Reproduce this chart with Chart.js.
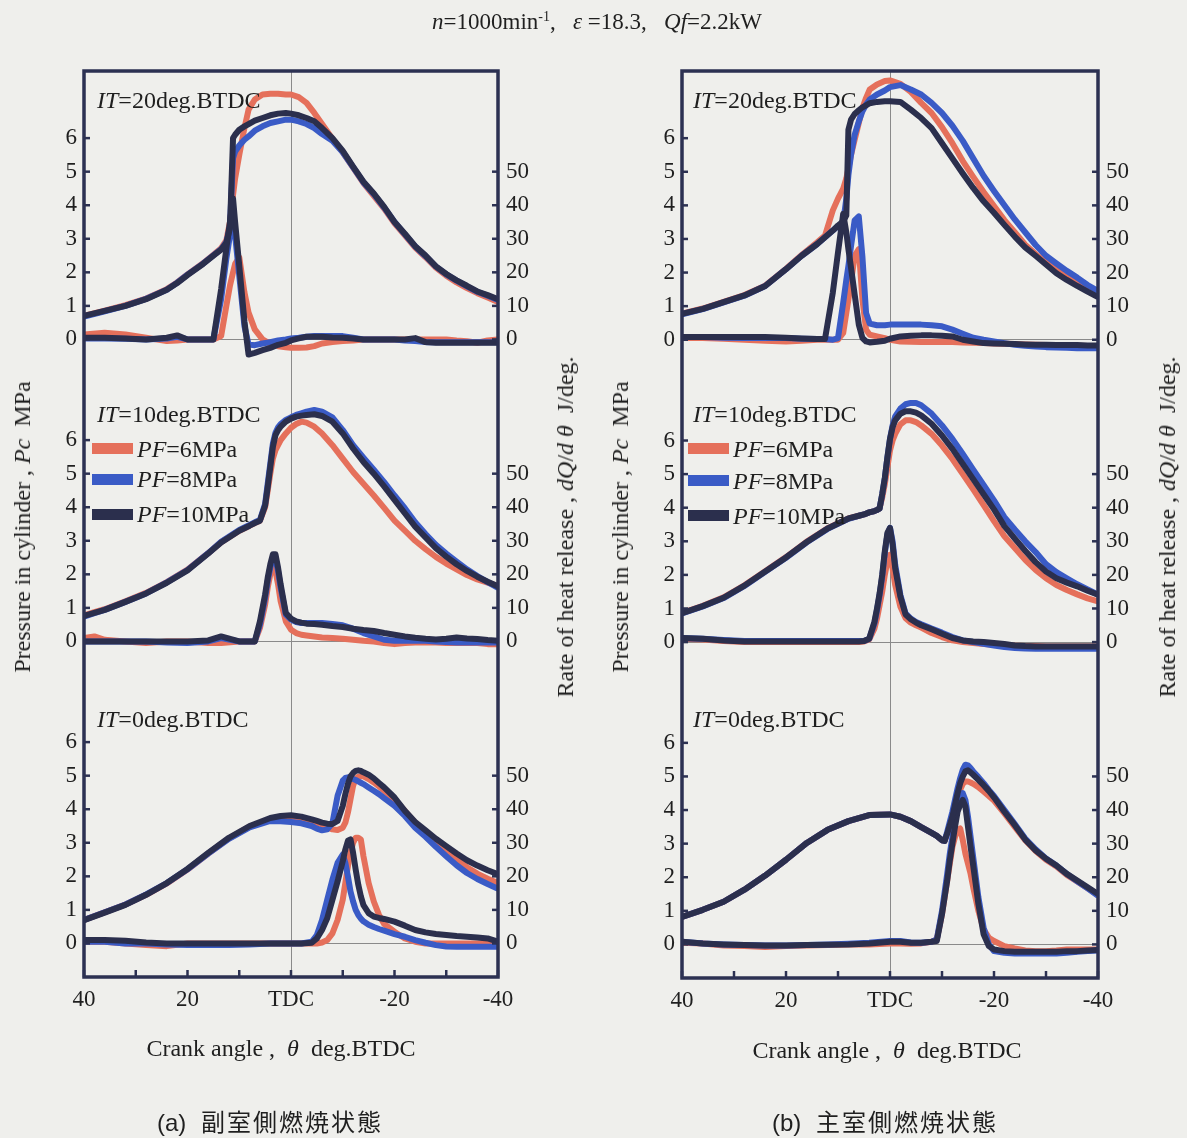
<!DOCTYPE html>
<html>
<head>
<meta charset="utf-8">
<title>Cylinder pressure and heat release</title>
<script src="https://cdn.jsdelivr.net/npm/chart.js@4.4.1/dist/chart.umd.min.js"></script>
<style>
  body { margin: 0; background: #efefec; }
  #page { position: relative; width: 1187px; height: 1138px; overflow: hidden;
          font-family: "Liberation Serif", "Times New Roman", serif; color: #1f1f1f; }
  #page canvas { position: absolute; top: 0; }
  .lbl { position: absolute; white-space: pre; line-height: 1; font-size: 24px; }
  .c { transform: translate(-50%, -50%); }
  .v { transform: translate(-50%, -50%) rotate(-90deg); }
  .sw { position: absolute; width: 41px; height: 11px; }
  .cap { font-family: "Noto Sans CJK JP", sans-serif; font-size: 24px; letter-spacing: 2px; }
  .cap .tag { font-family: "Liberation Sans", sans-serif; letter-spacing: 0; }
</style>
</head>
<body>
<div id="page">
  <canvas id="chartA" width="594" height="1138" style="left:0"></canvas>
  <canvas id="chartB" width="593" height="1138" style="left:594px"></canvas>

  <div class="lbl c" style="left:597px; top:21px; font-size:23px"><i>n</i>=1000min<span style="font-size:14px; vertical-align:8px">-1</span>,   <i>ε</i> =18.3,   <i>Qf</i>=2.2kW</div>

  <!-- panel (a) labels -->
  <div class="lbl" style="left:97px; top:88px"><i>IT</i>=20deg.BTDC</div>
  <div class="lbl" style="left:97px; top:402px"><i>IT</i>=10deg.BTDC</div>
  <div class="lbl" style="left:97px; top:707px"><i>IT</i>=0deg.BTDC</div>
  <div class="sw" style="left:92px; top:443px; background:#e5705b"></div>
  <div class="sw" style="left:92px; top:474px; background:#3a5bc6"></div>
  <div class="sw" style="left:92px; top:509px; background:#2b2f4d"></div>
  <div class="lbl" style="left:137px; top:437px"><i>PF</i>=6MPa</div>
  <div class="lbl" style="left:137px; top:467px"><i>PF</i>=8MPa</div>
  <div class="lbl" style="left:137px; top:502px"><i>PF</i>=10MPa</div>
  <div class="lbl v" style="left:22px; top:527px">Pressure in cylinder , <i>Pc</i>  MPa</div>
  <div class="lbl v" style="left:565px; top:527px">Rate of heat release , <i>dQ</i>/<i>d θ</i>  J/deg.</div>
  <div class="lbl c" style="left:281px; top:1048px">Crank angle ,  <i>θ</i>  deg.BTDC</div>
  <div class="lbl c cap" style="left:270px; top:1122px"><span class="tag">(a)</span>  副室側燃焼状態</div>

  <!-- panel (b) labels -->
  <div class="lbl" style="left:693px; top:88px"><i>IT</i>=20deg.BTDC</div>
  <div class="lbl" style="left:693px; top:402px"><i>IT</i>=10deg.BTDC</div>
  <div class="lbl" style="left:693px; top:707px"><i>IT</i>=0deg.BTDC</div>
  <div class="sw" style="left:688px; top:443px; background:#e5705b"></div>
  <div class="sw" style="left:688px; top:475px; background:#3a5bc6"></div>
  <div class="sw" style="left:688px; top:510px; background:#2b2f4d"></div>
  <div class="lbl" style="left:733px; top:437px"><i>PF</i>=6MPa</div>
  <div class="lbl" style="left:733px; top:469px"><i>PF</i>=8MPa</div>
  <div class="lbl" style="left:733px; top:504px"><i>PF</i>=10MPa</div>
  <div class="lbl v" style="left:620px; top:527px">Pressure in cylinder , <i>Pc</i>  MPa</div>
  <div class="lbl v" style="left:1167px; top:527px">Rate of heat release , <i>dQ</i>/<i>d θ</i>  J/deg.</div>
  <div class="lbl c" style="left:887px; top:1050px">Crank angle ,  <i>θ</i>  deg.BTDC</div>
  <div class="lbl c cap" style="left:885px; top:1122px"><span class="tag">(b)</span>  主室側燃焼状態</div>
</div>

<script>
// ---- axis ticks ----
const pressTicks = [0, 1, 2, 3, 4, 5, 6];
const heatTicks = [0, 10, 20, 30, 40, 50];
const angleTicks = [40, 30, 20, 10, 0, -10, -20, -30, -40];
const angleLabelAt = [40, 20, 0, -20, -40];
const angleLabelText = ['40', '20', 'TDC', '-20', '-40'];

// ---- (a) auxiliary chamber side ----
// IT = 20 deg.BTDC
const angA20 = [40, 36, 32, 28, 24, 22, 20, 17, 15, 13.5, 12.5, 11.8, 11.2, 10.8, 10, 9, 8.2, 7, 5.5, 4, 2.5, 1, 0, -1.5, -3, -4.5, -6, -8, -10, -12, -14, -16, -18, -20, -22, -24, -26, -28, -30, -32, -34, -36, -38, -40];
const presA20_pf6 = [0.70, 0.86, 1.02, 1.22, 1.50, 1.70, 1.94, 2.27, 2.52, 2.72, 2.95, 3.50, 4.30, 4.80, 5.50, 6.30, 6.85, 7.15, 7.30, 7.32, 7.32, 7.30, 7.30, 7.22, 7.05, 6.75, 6.42, 5.98, 5.58, 5.12, 4.66, 4.28, 3.90, 3.46, 3.10, 2.74, 2.45, 2.14, 1.90, 1.70, 1.53, 1.38, 1.25, 1.12];
const presA20_pf8 = [0.68, 0.84, 1.00, 1.21, 1.48, 1.69, 1.93, 2.26, 2.51, 2.69, 2.90, 3.35, 5.40, 5.60, 5.78, 5.95, 6.05, 6.22, 6.35, 6.45, 6.50, 6.55, 6.55, 6.50, 6.42, 6.30, 6.12, 5.92, 5.58, 5.13, 4.68, 4.33, 3.93, 3.50, 3.13, 2.77, 2.48, 2.17, 1.94, 1.75, 1.58, 1.42, 1.30, 1.18];
const presA20_pf10 = [0.70, 0.85, 1.00, 1.20, 1.48, 1.68, 1.92, 2.25, 2.50, 2.68, 2.88, 3.30, 6.00, 6.10, 6.25, 6.35, 6.42, 6.52, 6.60, 6.68, 6.73, 6.75, 6.73, 6.68, 6.60, 6.50, 6.30, 6.00, 5.62, 5.15, 4.70, 4.35, 3.95, 3.50, 3.15, 2.78, 2.50, 2.18, 1.95, 1.76, 1.60, 1.43, 1.32, 1.20];
const heatA20_pf6 = [1.5, 2, 1.5, 0.5, -0.5, -0.3, 0, 0, 0, 1, 10, 16, 20, 22.5, 24.5, 14, 8, 3, 0, -1.3, -2, -2.3, -2.5, -2.5, -2.4, -2, -1.2, -0.8, -0.5, -0.3, 0, 0, 0, 0, 0, 0, 0, 0, 0, -0.3, -0.5, -1, -0.3, 0];
const heatA20_pf8 = [0.3, 0.3, 0.2, 0, 0.3, 0.8, 0, 0, 0, 12, 24, 31, 37, 31, 19, 4, -1.5, -1.7, -1.2, -0.8, -0.3, 0, 0.3, 0.5, 0.8, 1, 1, 1, 1, 0.5, 0, 0, 0, 0, -0.3, -0.5, -0.8, -0.8, -0.8, -0.8, -0.8, -0.8, -0.8, -0.8];
const heatA20_pf10 = [0.5, 0.5, 0.3, 0, 0.5, 1.2, 0, 0, 0, 15, 27, 35, 42, 35, 22, 5.4, -4.5, -4, -3.2, -2.5, -1.6, -1, -0.3, 0.3, 0.8, 0.8, 0.8, 0.6, 0.5, 0.3, 0, 0, 0, 0, 0, 0.4, -0.8, -1, -1, -1, -1, -1, -1, -1];

// IT = 10 deg.BTDC
const angA10 = [40, 38, 36, 32, 28, 24, 20, 16, 13.5, 10, 8, 7, 6, 5, 4.5, 4, 3.5, 3, 2.5, 2, 1, 0, -1, -2, -3, -4.5, -6, -8, -10, -12, -14, -16, -18, -20, -22, -24, -26, -28, -30, -32, -34, -36, -38, -40];
const presA10_pf6 = [0.78, 0.87, 0.96, 1.20, 1.45, 1.77, 2.14, 2.63, 2.96, 3.30, 3.45, 3.53, 3.60, 4.00, 4.50, 5.00, 5.45, 5.70, 5.85, 6.00, 6.20, 6.37, 6.48, 6.55, 6.52, 6.40, 6.20, 5.85, 5.45, 5.05, 4.70, 4.35, 3.98, 3.60, 3.30, 3.00, 2.75, 2.52, 2.32, 2.15, 1.98, 1.85, 1.75, 1.65];
const presA10_pf8 = [0.74, 0.84, 0.94, 1.18, 1.43, 1.76, 2.13, 2.63, 2.97, 3.32, 3.47, 3.55, 3.62, 4.10, 4.70, 5.30, 5.90, 6.22, 6.38, 6.48, 6.60, 6.68, 6.75, 6.80, 6.85, 6.90, 6.85, 6.68, 6.30, 5.85, 5.48, 5.12, 4.75, 4.35, 3.97, 3.55, 3.20, 2.88, 2.62, 2.38, 2.15, 1.95, 1.77, 1.60];
const presA10_pf10 = [0.76, 0.85, 0.94, 1.18, 1.43, 1.75, 2.12, 2.62, 2.95, 3.30, 3.45, 3.53, 3.60, 4.05, 4.60, 5.20, 5.80, 6.15, 6.30, 6.40, 6.55, 6.64, 6.70, 6.73, 6.75, 6.77, 6.72, 6.55, 6.20, 5.75, 5.35, 5.00, 4.62, 4.22, 3.82, 3.42, 3.10, 2.78, 2.53, 2.30, 2.10, 1.93, 1.78, 1.64];
const heatA10_pf6 = [1, 1.5, 0.5, 0, -0.5, 0, 0, -0.5, -0.5, 0, 0, 0, 4, 11, 16, 20, 22, 21, 17, 12, 6, 3.5, 2.5, 2, 1.8, 1.5, 1.2, 1, 0.8, 0.5, 0.2, 0, -0.5, -0.8, -0.5, -0.3, -0.3, -0.3, -0.5, -0.5, -0.5, -0.5, -0.8, -0.8];
const heatA10_pf8 = [0, 0, 0, 0, 0, -0.3, -0.5, 0, 1, 0, 0, 0, 5, 13, 18, 22, 25, 24.5, 21, 16, 8, 6.5, 5.8, 5.5, 5.5, 5.5, 5.5, 5.2, 4.8, 3.8, 2.5, 1.5, 0.5, 0.2, 0.2, 0.2, 0.2, 0, -0.2, -0.3, -0.3, -0.3, -0.3, -0.3];
const heatA10_pf10 = [0, 0, 0, 0, 0, 0, 0, 0.3, 1.5, 0, 0, 0, 6, 14, 19, 23, 26, 26, 22, 17, 8.5, 6.8, 6, 5.6, 5.3, 5.2, 5, 4.6, 4.3, 3.8, 3.4, 3.1, 2.5, 2, 1.5, 1.1, 0.8, 0.6, 0.8, 1.2, 0.9, 0.7, 0.4, 0.2];

// IT = 0 deg.BTDC
const angA0 = [40, 36, 32, 28, 24, 20, 16, 12, 8, 4, 2, 0, -2, -4, -5, -6, -7, -8, -9, -10, -10.5, -11, -11.5, -12, -12.5, -13, -13.5, -14, -15, -16, -17, -18, -20, -22, -24, -26, -28, -30, -32, -34, -36, -38, -40];
const presA0_pf6 = [0.70, 0.93, 1.16, 1.45, 1.79, 2.20, 2.68, 3.13, 3.48, 3.70, 3.76, 3.78, 3.74, 3.66, 3.60, 3.55, 3.45, 3.40, 3.38, 3.45, 3.60, 3.90, 4.30, 4.70, 4.90, 4.97, 4.98, 4.98, 4.90, 4.80, 4.68, 4.55, 4.28, 3.95, 3.60, 3.30, 3.00, 2.75, 2.50, 2.27, 2.08, 1.93, 1.80];
const presA0_pf8 = [0.70, 0.93, 1.16, 1.46, 1.80, 2.21, 2.68, 3.12, 3.46, 3.65, 3.64, 3.62, 3.58, 3.50, 3.42, 3.37, 3.40, 3.58, 4.40, 4.85, 4.93, 4.95, 4.93, 4.90, 4.87, 4.83, 4.79, 4.75, 4.65, 4.55, 4.45, 4.33, 4.10, 3.80, 3.45, 3.18, 2.88, 2.60, 2.33, 2.10, 1.92, 1.77, 1.63];
const presA0_pf10 = [0.69, 0.92, 1.15, 1.45, 1.80, 2.22, 2.70, 3.15, 3.50, 3.74, 3.80, 3.82, 3.78, 3.70, 3.65, 3.60, 3.57, 3.56, 3.65, 4.10, 4.45, 4.75, 4.98, 5.08, 5.14, 5.16, 5.14, 5.10, 5.03, 4.92, 4.78, 4.65, 4.35, 3.95, 3.62, 3.37, 3.12, 2.90, 2.68, 2.48, 2.32, 2.18, 2.06];
const heatA0_pf6 = [0.5, 0.5, 0, -0.5, -0.8, 0, 0, 0, 0, 0, 0, 0, 0, 0, 0, 0.3, 1, 3, 7, 13, 18, 23, 27, 30, 31.5, 31.5, 31, 26, 18, 12.5, 8.5, 5.8, 3.5, 1.5, 0.5, 0, 0, 0, 0, 0, 0, 0, 0];
const heatA0_pf8 = [0.5, 0.5, 0, 0, -0.3, -0.5, -0.5, -0.5, -0.3, 0, 0, 0, 0, 0.5, 2.5, 7, 13, 19, 24, 26.5, 24, 20, 15.5, 12.5, 10, 8.5, 7.4, 6.6, 5.6, 4.9, 4.3, 3.8, 2.8, 2, 1, 0.2, -0.5, -0.9, -1, -1, -1, -1, -1];
const heatA0_pf10 = [1, 1, 0.8, 0.3, 0, 0, 0, 0, 0, 0, 0, 0, 0, 0.2, 1.5, 4, 7.5, 13, 18.5, 24.5, 28, 30.6, 31, 27, 22, 17.5, 14, 11.4, 9, 8, 7.6, 7.3, 6.5, 5.3, 4, 3.3, 2.8, 2.5, 2.2, 2, 1.8, 1.5, 0.5];

// ---- (b) main chamber side ----
// IT = 20 deg.BTDC
const angB20 = [40, 36, 32, 28, 24, 20, 17, 14, 12.5, 11, 10, 9, 8.4, 8, 7.5, 6.8, 6, 5.3, 4.6, 3.9, 2.5, 1, 0, -2, -4, -6, -8, -10, -12, -14, -16, -18, -20, -22, -24, -26, -28, -30, -32, -34, -36, -38, -40];
const presB20_pf6 = [0.78, 0.93, 1.13, 1.33, 1.61, 2.11, 2.52, 2.90, 3.10, 3.85, 4.20, 4.50, 4.80, 5.10, 5.50, 5.95, 6.45, 6.90, 7.20, 7.45, 7.60, 7.70, 7.72, 7.62, 7.38, 7.05, 6.75, 6.33, 5.85, 5.32, 4.85, 4.40, 3.98, 3.56, 3.20, 2.83, 2.55, 2.30, 2.10, 1.90, 1.70, 1.52, 1.36];
const presB20_pf8 = [0.76, 0.91, 1.11, 1.31, 1.60, 2.10, 2.50, 2.85, 3.05, 3.25, 3.38, 3.50, 4.20, 4.90, 5.50, 6.10, 6.50, 6.80, 7.00, 7.15, 7.30, 7.42, 7.52, 7.58, 7.45, 7.30, 7.05, 6.75, 6.37, 5.92, 5.40, 4.88, 4.43, 4.00, 3.58, 3.20, 2.82, 2.50, 2.27, 2.05, 1.85, 1.63, 1.45];
const presB20_pf10 = [0.77, 0.92, 1.12, 1.32, 1.60, 2.10, 2.50, 2.85, 3.05, 3.25, 3.40, 3.52, 3.70, 6.25, 6.55, 6.72, 6.83, 6.92, 6.98, 7.04, 7.08, 7.10, 7.10, 7.08, 6.85, 6.60, 6.30, 5.85, 5.40, 4.95, 4.52, 4.12, 3.78, 3.42, 3.07, 2.75, 2.50, 2.24, 1.98, 1.78, 1.60, 1.43, 1.27];
const heatB20_pf6 = [0.5, 0.5, 0.3, 0, -0.3, -0.5, -0.3, 0, 0, 0, 0, 2, 8, 12, 17, 25, 27, 12, 3, 1.5, 1, 0.5, 0, -0.5, -0.6, -0.7, -0.7, -0.7, -0.7, -0.8, -0.9, -1, -1.1, -1.2, -1.3, -1.4, -1.5, -1.6, -1.7, -1.8, -1.8, -1.9, -1.9];
const heatB20_pf8 = [0.8, 0.8, 0.6, 0.5, 0.5, 0.5, 0.3, 0.2, 0.2, 0, 0.5, 11, 17.8, 22, 27.8, 35.5, 36.7, 24.6, 8, 4.8, 4.3, 4.3, 4.5, 4.5, 4.5, 4.5, 4.3, 4, 3, 1.8, 0.6, 0, -0.5, -1, -1.5, -1.8, -2, -2.2, -2.3, -2.4, -2.5, -2.5, -2.5];
const heatB20_pf10 = [0.8, 0.8, 0.8, 0.8, 0.8, 0.6, 0.4, 0.2, 0.2, 14, 26, 37.5, 32, 27, 21.5, 13.5, 4.5, 0.5, -0.5, -0.8, -0.6, -0.3, 0.3, 1, 1.2, 1.3, 1.3, 1.2, 1, 0, -0.5, -1, -1.1, -1.2, -1.3, -1.4, -1.5, -1.5, -1.6, -1.6, -1.6, -1.7, -1.7];

// IT = 10 deg.BTDC
const angB10 = [40, 36, 32, 28, 24, 20, 16, 12, 8, 6, 5, 4, 3, 2.5, 2, 1.5, 1, 0.5, 0, -0.5, -1, -2, -3, -4, -5, -6, -8, -10, -12, -14, -16, -18, -20, -22, -24, -26, -28, -30, -32, -34, -36, -38, -40];
const presB10_pf6 = [0.87, 1.08, 1.33, 1.69, 2.11, 2.53, 2.99, 3.39, 3.68, 3.76, 3.80, 3.86, 3.90, 3.93, 3.98, 4.30, 4.70, 5.20, 5.70, 6.00, 6.20, 6.48, 6.60, 6.60, 6.55, 6.45, 6.20, 5.85, 5.45, 5.00, 4.55, 4.08, 3.60, 3.15, 2.80, 2.45, 2.15, 1.90, 1.70, 1.55, 1.42, 1.30, 1.21];
const presB10_pf8 = [0.85, 1.06, 1.31, 1.67, 2.09, 2.51, 2.97, 3.37, 3.67, 3.76, 3.80, 3.86, 3.90, 3.93, 3.98, 4.40, 4.88, 5.50, 6.05, 6.45, 6.72, 6.95, 7.08, 7.12, 7.12, 7.05, 6.80, 6.45, 6.05, 5.60, 5.13, 4.68, 4.22, 3.72, 3.35, 3.00, 2.68, 2.32, 2.08, 1.90, 1.72, 1.57, 1.41];
const presB10_pf10 = [0.86, 1.07, 1.32, 1.68, 2.10, 2.52, 2.98, 3.38, 3.68, 3.76, 3.80, 3.86, 3.90, 3.93, 3.98, 4.40, 4.88, 5.50, 6.05, 6.40, 6.60, 6.80, 6.87, 6.87, 6.83, 6.75, 6.50, 6.15, 5.75, 5.30, 4.85, 4.40, 3.95, 3.45, 3.08, 2.72, 2.38, 2.10, 1.90, 1.77, 1.66, 1.53, 1.41];
const heatB10_pf6 = [1, 0.8, 0.3, 0, 0, 0, 0, 0, 0, 0, 0.2, 0.8, 4, 7, 11, 15, 20, 24, 26, 22, 17, 10.5, 7.1, 5.8, 5, 4.3, 2.7, 1.5, 0.5, 0, -0.3, -0.6, -0.8, -1, -1.1, -1.2, -1.2, -1.3, -1.3, -1.3, -1.3, -1.3, -1.3];
const heatB10_pf8 = [1.2, 1, 0.6, 0.3, 0.3, 0.3, 0.3, 0.3, 0.3, 0.3, 0.3, 1, 5.5, 9.5, 14, 19.5, 26.5, 32, 34, 30, 23, 14, 8.5, 7, 6, 5.3, 4, 2.8, 1.5, 0.5, 0, -0.5, -1, -1.5, -1.8, -1.9, -2, -2, -2, -2, -2, -2, -2];
const heatB10_pf10 = [1.2, 1, 0.5, 0.2, 0.2, 0.2, 0.2, 0.2, 0.2, 0.2, 0.3, 1, 6, 10, 14.5, 20, 27, 32.5, 34, 29, 22, 13.5, 8.2, 6.8, 5.8, 5, 3.8, 2.5, 1.2, 0.5, 0.2, 0, -0.3, -0.6, -1, -1.2, -1.3, -1.3, -1.3, -1.3, -1.3, -1.3, -1.3];

// IT = 0 deg.BTDC
const angB0 = [40, 36, 32, 28, 24, 20, 16, 12, 8, 4, 0, -2, -4, -6, -8, -9, -10, -10.5, -11, -11.5, -12, -12.5, -13, -13.5, -14, -14.5, -15, -15.5, -16, -17, -18, -19, -20, -22, -24, -26, -28, -30, -32, -34, -36, -38, -40];
const presB0_pf6 = [0.82, 1.03, 1.27, 1.63, 2.05, 2.52, 3.02, 3.41, 3.67, 3.85, 3.87, 3.80, 3.67, 3.49, 3.32, 3.23, 3.10, 3.08, 3.30, 3.50, 3.75, 4.05, 4.35, 4.60, 4.78, 4.85, 4.85, 4.82, 4.78, 4.68, 4.55, 4.42, 4.28, 3.90, 3.50, 3.10, 2.78, 2.52, 2.32, 2.07, 1.87, 1.67, 1.47];
const presB0_pf8 = [0.82, 1.03, 1.27, 1.63, 2.05, 2.52, 3.02, 3.41, 3.67, 3.85, 3.87, 3.80, 3.67, 3.49, 3.32, 3.23, 3.10, 3.08, 3.35, 3.65, 3.95, 4.30, 4.65, 4.95, 5.20, 5.35, 5.33, 5.25, 5.15, 4.98, 4.80, 4.60, 4.42, 4.00, 3.58, 3.15, 2.83, 2.56, 2.35, 2.10, 1.88, 1.67, 1.45];
const presB0_pf10 = [0.82, 1.03, 1.27, 1.63, 2.05, 2.52, 3.02, 3.41, 3.67, 3.85, 3.87, 3.80, 3.67, 3.49, 3.32, 3.23, 3.10, 3.08, 3.30, 3.55, 3.80, 4.15, 4.50, 4.80, 5.00, 5.15, 5.18, 5.12, 5.05, 4.90, 4.74, 4.57, 4.38, 3.95, 3.55, 3.12, 2.80, 2.55, 2.35, 2.10, 1.90, 1.70, 1.50];
const heatB0_pf6 = [0.5, 0.3, -0.3, -0.5, -0.8, -0.5, -0.3, -0.2, 0, 0, 0.3, 0.3, 0.2, 0.3, 0.8, 1.5, 9, 14, 19, 24, 29, 32, 34, 34.5, 31, 27, 24, 21, 17, 10, 4.5, 2, 1, -0.5, -1.2, -1.8, -2, -2, -1.8, -1.5, -1.5, -1.5, -1.5];
const heatB0_pf8 = [0.8, 0.3, 0, -0.2, -0.3, -0.3, -0.2, 0, 0.2, 0.5, 1, 1, 0.6, 0.5, 0.8, 1.5, 10, 15.5, 21, 27, 32, 37, 41, 44, 45, 43, 38, 32, 26, 14, 5, 0, -2, -2.5, -2.7, -2.7, -2.7, -2.7, -2.7, -2.5, -2.2, -2, -1.8];
const heatB0_pf10 = [0.8, 0.3, 0, -0.2, -0.3, -0.3, -0.2, -0.1, 0, 0.3, 0.8, 0.8, 0.5, 0.5, 0.8, 1, 9, 14, 19, 25, 30, 35, 39.5, 41.5, 43, 41, 35, 29, 23.5, 12, 3, -0.5, -1.5, -2, -2.2, -2.2, -2.2, -2.2, -2.2, -2, -2, -1.8, -1.7];

// ---- drawing ----
const SERIF = '"Liberation Serif", "Times New Roman", serif';
const RED = '#e5705b', BLUE = '#3a5bc6', NAVY = '#2b2f4d';
const FRAME = '#2c3152', ZERO = '#8a8a8a', TEXT = '#1f1f1f';

Chart.defaults.font.family = SERIF;

function pts(angles, vals) {
  return angles.map((a, i) => ({ x: a, y: vals[i] }));
}

function curve(angles, vals, axis, color, order) {
  return {
    data: pts(angles, vals), yAxisID: axis, borderColor: color, borderWidth: 6,
    pointRadius: 0, tension: 0, fill: false, order: order, borderJoinStyle: 'round'
  };
}

// one band of the stacked y axes (left: pressure, right: heat release)
function band(pos, min, max, tickVals, width, zeroLine) {
  return {
    type: 'linear', position: pos, stack: 'band', stackWeight: 1, min: min, max: max,
    afterBuildTicks: s => { s.ticks = tickVals.map(v => ({ value: v })); },
    afterFit: s => { s.width = width; },
    ticks: { autoSkip: false, padding: pos === 'left' ? 7 : 8, color: TEXT, font: { size: 23 } },
    grid: {
      drawTicks: false,
      color: c => (zeroLine && c.tick && c.tick.value === 0) ? ZERO : 'rgba(0,0,0,0)'
    },
    border: { display: false }
  };
}

// inward tick marks and the heavy frame
const frameTicks = {
  id: 'frameTicks',
  afterDatasetsDraw(chart) {
    const ctx = chart.ctx, a = chart.chartArea;
    ctx.save();
    ctx.strokeStyle = FRAME;
    ctx.lineWidth = 2.5;
    Object.values(chart.scales).forEach(s => {
      s.ticks.forEach(t => {
        const p = s.getPixelForValue(t.value);
        ctx.beginPath();
        if (s.axis === 'x') { ctx.moveTo(p, a.bottom); ctx.lineTo(p, a.bottom - 7); }
        else if (s.position === 'left') { ctx.moveTo(a.left, p); ctx.lineTo(a.left + 6, p); }
        else { ctx.moveTo(a.right, p); ctx.lineTo(a.right - 6, p); }
        ctx.stroke();
      });
    });
    ctx.lineWidth = 3.5;
    ctx.strokeRect(a.left, a.top, a.right - a.left, a.bottom - a.top);
    ctx.restore();
  }
};

function makePanel(id, subs, dims) {
  const datasets = [];
  subs.forEach((s, k) => {
    const n = k + 1;
    datasets.push(curve(s.angle, s.pres[0], 'p' + n, RED, 2), curve(s.angle, s.heat[0], 'h' + n, RED, 2));
    datasets.push(curve(s.angle, s.pres[1], 'p' + n, BLUE, 1), curve(s.angle, s.heat[1], 'h' + n, BLUE, 1));
    datasets.push(curve(s.angle, s.pres[2], 'p' + n, NAVY, 0), curve(s.angle, s.heat[2], 'h' + n, NAVY, 0));
  });

  const scales = {
    x: {
      type: 'linear', position: 'bottom', min: -40, max: 40, reverse: true,
      afterBuildTicks: s => { s.ticks = angleTicks.map(v => ({ value: v })); },
      afterFit: s => { s.height = dims.bottom; },
      ticks: {
        autoSkip: false, maxRotation: 0, padding: 9, color: TEXT, font: { size: 23 },
        callback: v => { const i = angleLabelAt.indexOf(v); return i < 0 ? '' : angleLabelText[i]; }
      },
      grid: { drawTicks: false, color: c => (c.tick && c.tick.value === 0) ? ZERO : 'rgba(0,0,0,0)' },
      border: { display: false }
    },
    // left stack is laid out last-first, right stack first-first
    p3: band('left', -1, 8, pressTicks, dims.left, true),
    p2: band('left', -1, 8, pressTicks, dims.left, true),
    p1: band('left', -1, 8, pressTicks, dims.left, true),
    h1: band('right', -10, 80, heatTicks, dims.right, false),
    h2: band('right', -10, 80, heatTicks, dims.right, false),
    h3: band('right', -10, 80, heatTicks, dims.right, false)
  };

  new Chart(document.getElementById(id), {
    type: 'line',
    data: { datasets: datasets },
    options: {
      responsive: false, animation: false, devicePixelRatio: 1,
      layout: { autoPadding: false, padding: { top: 71, left: 0, right: 0, bottom: 0 } },
      plugins: { legend: { display: false }, tooltip: { enabled: false } },
      scales: scales
    },
    plugins: [frameTicks]
  });
}

makePanel('chartA', [
  { angle: angA20, pres: [presA20_pf6, presA20_pf8, presA20_pf10], heat: [heatA20_pf6, heatA20_pf8, heatA20_pf10] },
  { angle: angA10, pres: [presA10_pf6, presA10_pf8, presA10_pf10], heat: [heatA10_pf6, heatA10_pf8, heatA10_pf10] },
  { angle: angA0, pres: [presA0_pf6, presA0_pf8, presA0_pf10], heat: [heatA0_pf6, heatA0_pf8, heatA0_pf10] }
], { left: 84, right: 96, bottom: 161 });

makePanel('chartB', [
  { angle: angB20, pres: [presB20_pf6, presB20_pf8, presB20_pf10], heat: [heatB20_pf6, heatB20_pf8, heatB20_pf10] },
  { angle: angB10, pres: [presB10_pf6, presB10_pf8, presB10_pf10], heat: [heatB10_pf6, heatB10_pf8, heatB10_pf10] },
  { angle: angB0, pres: [presB0_pf6, presB0_pf8, presB0_pf10], heat: [heatB0_pf6, heatB0_pf8, heatB0_pf10] }
], { left: 88, right: 89, bottom: 160 });
</script>
</body>
</html>
